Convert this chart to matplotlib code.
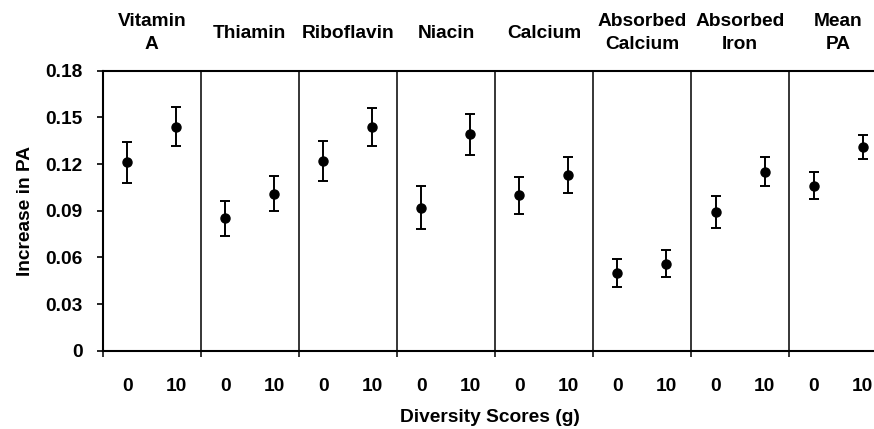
#!/usr/bin/env python3

import numpy as np
import matplotlib
matplotlib.use("Agg")
import matplotlib.pyplot as plt

# panel names (top of chart)
nutrients = ["Vitamin\nA", "Thiamin", "Riboflavin", "Niacin", "Calcium",
             "Absorbed\nCalcium", "Absorbed\nIron", "Mean\nPA"]
scores = ["0", "10"]

# increase in PA, diversity score 0 and 10
pa_score0 = [0.121, 0.085, 0.122, 0.092, 0.100, 0.050, 0.089, 0.106]
pa_score10 = [0.144, 0.101, 0.144, 0.139, 0.113, 0.056, 0.115, 0.131]

# error (half length of bars)
err_score0 = [0.0133, 0.0114, 0.0131, 0.0139, 0.0118, 0.0088, 0.0102, 0.0087]
err_score10 = [0.0127, 0.0110, 0.0123, 0.0130, 0.0116, 0.0085, 0.0094, 0.0078]

yticks = [0, 0.03, 0.06, 0.09, 0.12, 0.15, 0.18]
ytick_labels = ["0", "0.03", "0.06", "0.09", "0.12", "0.15", "0.18"]


def main():
    plt.rcParams["font.family"] = ["Liberation Sans", "DejaVu Sans"]
    plt.rcParams["font.weight"] = "bold"
    fs = 13.8

    fig = plt.figure(figsize=(8.74, 4.29), dpi=100)
    # axes goes a bit past the right edge (last panel is cut off)
    ax = fig.add_axes([0.1175, 0.1825, 0.8975, 0.6527])

    n = len(nutrients)
    x0 = np.arange(n) + 0.25
    x10 = np.arange(n) + 0.75

    style = dict(fmt="o", color="black", markersize=6.5, elinewidth=1.4,
                 capsize=3.6, capthick=1.4)
    ax.errorbar(x0, pa_score0, yerr=err_score0, **style)
    ax.errorbar(x10, pa_score10, yerr=err_score10, **style)

    # panel dividers
    for i in range(1, n):
        ax.axvline(i, color="black", linewidth=1.1)

    ax.set_xlim(0, n)
    ax.set_ylim(0, 0.18)

    ax.set_yticks(yticks)
    ax.set_yticklabels(ytick_labels, fontsize=fs, fontweight="bold")
    ax.tick_params(axis="y", direction="out", length=4.5, width=1.2, pad=10)

    ax.set_xticks(np.concatenate([x0, x10]))
    ax.set_xticklabels(scores[:1] * n + scores[1:] * n, fontsize=fs,
                       fontweight="bold")
    ax.set_xticks(np.arange(n + 1), minor=True)
    ax.tick_params(axis="x", which="major", length=0, pad=20)
    ax.tick_params(axis="x", which="minor", direction="out", length=4,
                   width=1.1)

    for side in ["left", "bottom", "top"]:
        ax.spines[side].set_linewidth(1.5)
    ax.spines["right"].set_visible(False)

    for i, name in enumerate(nutrients):
        ax.text(i + 0.5, 1.1346, name, transform=ax.get_xaxis_transform(),
                ha="center", va="center", fontsize=fs, fontweight="bold",
                linespacing=1.4)

    ax.set_ylabel("Increase in PA", fontsize=fs, fontweight="bold",
                  labelpad=8)
    fig.text(490 / 874, 1 - 417 / 429, "Diversity Scores (g)", ha="center",
             va="center", fontsize=fs, fontweight="bold")

    fig.savefig("out.png", dpi=100)


if __name__ == "__main__":
    main()
